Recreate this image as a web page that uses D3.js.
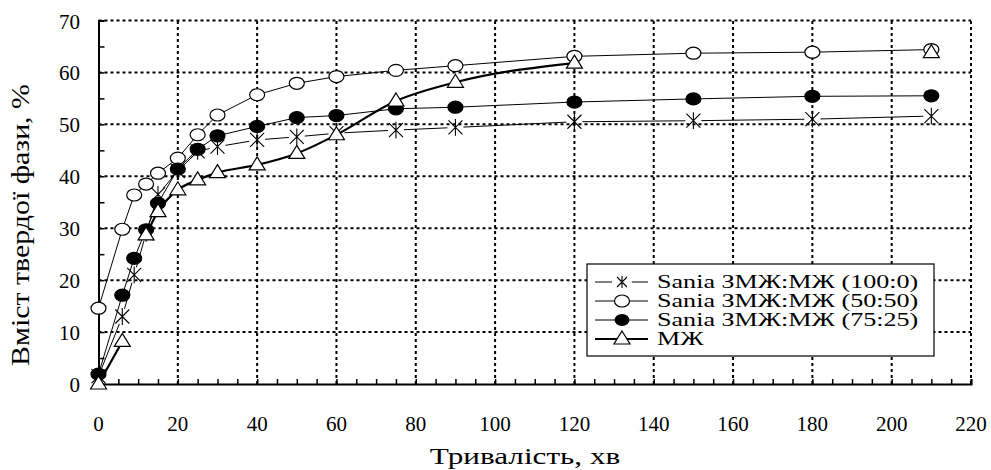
<!DOCTYPE html>
<html><head><meta charset="utf-8">
<script src="https://cdn.jsdelivr.net/npm/d3@7"></script>
<style>body{margin:0;background:#fff}svg{display:block}</style>
</head><body><svg id="c" width="991" height="470"></svg>
<script>
const times = [0,6,9,12,15,20,25,30,40,50,60,75,90,120,150,180,210];
const s100_0  = [1.5,13.0,21.0,29.0,36.5,41.0,44.8,45.7,47.0,47.6,48.3,48.9,49.4,50.5,50.7,51.0,51.6];
const s50_50  = [14.6,29.8,36.4,38.5,40.6,43.5,48.0,51.8,55.7,57.9,59.2,60.4,61.3,63.1,63.7,63.9,64.4];
const s75_25  = [1.9,17.1,24.2,29.7,34.8,41.4,45.2,47.8,49.6,51.3,51.7,53.0,53.3,54.3,54.9,55.4,55.5];
const sMZh    = [0,8.2,null,28.7,33.2,37.4,39.3,40.7,42.2,44.4,48.0,54.5,58.1,61.8,null,null,63.8];
const seriesNames = ["Sania ЗМЖ:МЖ (100:0)","Sania ЗМЖ:МЖ (50:50)","Sania ЗМЖ:МЖ (75:25)","МЖ"];
const xTicks = [0,20,40,60,80,100,120,140,160,180,200,220];
const yTicks = [0,10,20,30,40,50,60,70];
const xTitle = "Тривалість, хв";
const yTitle = "Вміст твердої фази, %";

const FONT = "'Liberation Serif', 'Times New Roman', 'DejaVu Serif', serif";
const svg = d3.select("#c");
const L=98.5, R=971, T=20.5, B=384;
const x = d3.scaleLinear().domain([0,220]).range([L,R]);
const y = d3.scaleLinear().domain([0,70]).range([B,T]);

// gridlines
const g = svg.append("g");
g.selectAll(".gx").data(xTicks.slice(1)).join("line")
  .attr("x1",d=>x(d)).attr("x2",d=>x(d)).attr("y1",B).attr("y2",T)
  .attr("stroke","#000").attr("stroke-width",2).attr("stroke-dasharray","3,3");
g.selectAll(".gy").data(yTicks.slice(1)).join("line")
  .attr("y1",d=>y(d)).attr("y2",d=>y(d)).attr("x1",L).attr("x2",R)
  .attr("stroke","#000").attr("stroke-width",2).attr("stroke-dasharray","3,3");

// axes
const xAxis = d3.axisBottom(x).tickValues(d3.range(0,221,5)).tickSize(-5).tickFormat("");
const yAxis = d3.axisLeft(y).tickValues(d3.range(0,71,5)).tickSize(-6).tickFormat("");
const gx = svg.append("g").attr("transform",`translate(0,${B})`).call(xAxis);
const gy = svg.append("g").attr("transform",`translate(${L},0)`).call(yAxis);
[gx,gy].forEach(a=>{a.select(".domain").attr("stroke","#000").attr("stroke-width",2);
  a.selectAll(".tick line").attr("stroke","#000").attr("stroke-width",1.5);});

// tick labels
svg.append("g").selectAll("text").data(xTicks).join("text")
  .attr("x",d=>x(d)).attr("y",431).attr("text-anchor","middle").attr("font-family",FONT)
  .attr("font-size",21).text(d=>d);
svg.append("g").selectAll("text").data(yTicks).join("text")
  .attr("x",80).attr("y",d=>y(d)+8).attr("text-anchor","end").attr("font-family",FONT)
  .attr("font-size",21).text(d=>d);

// titles
svg.append("text").attr("transform",`translate(525,464) scale(1.3,1)`).attr("text-anchor","middle")
  .attr("font-family",FONT).attr("font-size",24).text(xTitle);
svg.append("text").attr("transform",`translate(29,225) rotate(-90) scale(1.15,1)`).attr("text-anchor","middle")
  .attr("font-family",FONT).attr("font-size",26).text(yTitle);

// series
function pts(vals){return times.map((t,i)=>({t,v:vals[i]})).filter(d=>d.v!==null);}
const lineStraight = d3.line().defined(d=>d.v!==null).x(d=>x(d.t)).y(d=>y(d.v));
const lineSmooth = d3.line().defined(d=>d.v!==null).x(d=>x(d.t)).y(d=>y(d.v)).curve(d3.curveMonotoneX);

function asterisk(sel, cx, cy, s){
  const p = `M${cx-s},${cy-s}L${cx+s},${cy+s}M${cx-s},${cy+s}L${cx+s},${cy-s}M${cx},${cy-s*1.2}L${cx},${cy+s*1.2}`;
  sel.append("path").attr("d",p).attr("stroke","#000").attr("stroke-width",1.1).attr("fill","none");
}
function triangle(sel,cx,cy){
  const p = `M${cx},${cy-8}L${cx+8},${cy+5}L${cx-8},${cy+5}Z`;
  sel.append("path").attr("d",p).attr("stroke","#000").attr("stroke-width",1.2).attr("fill","#fff");
}

// series 1: asterisk, gapped segments
const s1 = svg.append("g");
const p1 = pts(s100_0);
for(let i=0;i<p1.length-1;i++){
  const ax=x(p1[i].t), ay=y(p1[i].v), bx=x(p1[i+1].t), by=y(p1[i+1].v);
  const dx=bx-ax, dy=by-ay, len=Math.hypot(dx,dy), gap=8;
  if(len>2*gap+1){
    s1.append("line").attr("x1",ax+dx/len*gap).attr("y1",ay+dy/len*gap)
      .attr("x2",bx-dx/len*gap).attr("y2",by-dy/len*gap).attr("stroke","#000").attr("stroke-width",1);
  }
}
p1.forEach(d=>asterisk(s1,x(d.t),y(d.v),7));

// series 2: open circle
const s2 = svg.append("g");
s2.append("path").attr("d",lineStraight(pts(s50_50))).attr("fill","none").attr("stroke","#000").attr("stroke-width",1);
s2.selectAll("ellipse").data(pts(s50_50)).join("ellipse").attr("cx",d=>x(d.t)).attr("cy",d=>y(d.v))
  .attr("rx",7.5).attr("ry",6).attr("fill","#fff").attr("stroke","#000").attr("stroke-width",1.2);

// series 3: filled circle
const s3 = svg.append("g");
s3.append("path").attr("d",lineStraight(pts(s75_25))).attr("fill","none").attr("stroke","#000").attr("stroke-width",1);
s3.selectAll("ellipse").data(pts(s75_25)).join("ellipse").attr("cx",d=>x(d.t)).attr("cy",d=>y(d.v))
  .attr("rx",7.5).attr("ry",6).attr("fill","#000").attr("stroke","#000").attr("stroke-width",1.2);

// series 4: triangle, thick smoothed
const s4 = svg.append("g");
s4.append("path").attr("d",lineSmooth(times.map((t,i)=>({t,v:sMZh[i]})))).attr("fill","none").attr("stroke","#000").attr("stroke-width",2.2);
pts(sMZh).forEach(d=>triangle(s4,x(d.t),y(d.v)));

// legend
const lg = svg.append("g");
const bx0=587, by0=264, bw=347, bh=92;
lg.append("rect").attr("x",bx0).attr("y",by0).attr("width",bw).attr("height",bh).attr("fill","#fff").attr("stroke","#000").attr("stroke-width",1.2);
const rows=[282,301,320,339];
seriesNames.forEach((n,i)=>{
  const ry=rows[i];
  lg.append("line").attr("x1",595).attr("x2",648).attr("y1",ry).attr("y2",ry).attr("stroke","#000").attr("stroke-width",i===3?2.2:1);
  if(i===0){lg.append("rect").attr("x",612).attr("y",ry-7).attr("width",20).attr("height",14).attr("fill","#fff");asterisk(lg,622,ry,5);}
  if(i===1)lg.append("ellipse").attr("cx",622).attr("cy",ry).attr("rx",7.5).attr("ry",6).attr("fill","#fff").attr("stroke","#000").attr("stroke-width",1.2);
  if(i===2)lg.append("ellipse").attr("cx",622).attr("cy",ry).attr("rx",7.5).attr("ry",6).attr("fill","#000");
  if(i===3)triangle(lg,622,ry);
  lg.append("text").attr("transform",`translate(657,${ry+6}) scale(1.45,1)`).attr("font-family",FONT).attr("font-size",18).text(n);
});
</script></body></html>
